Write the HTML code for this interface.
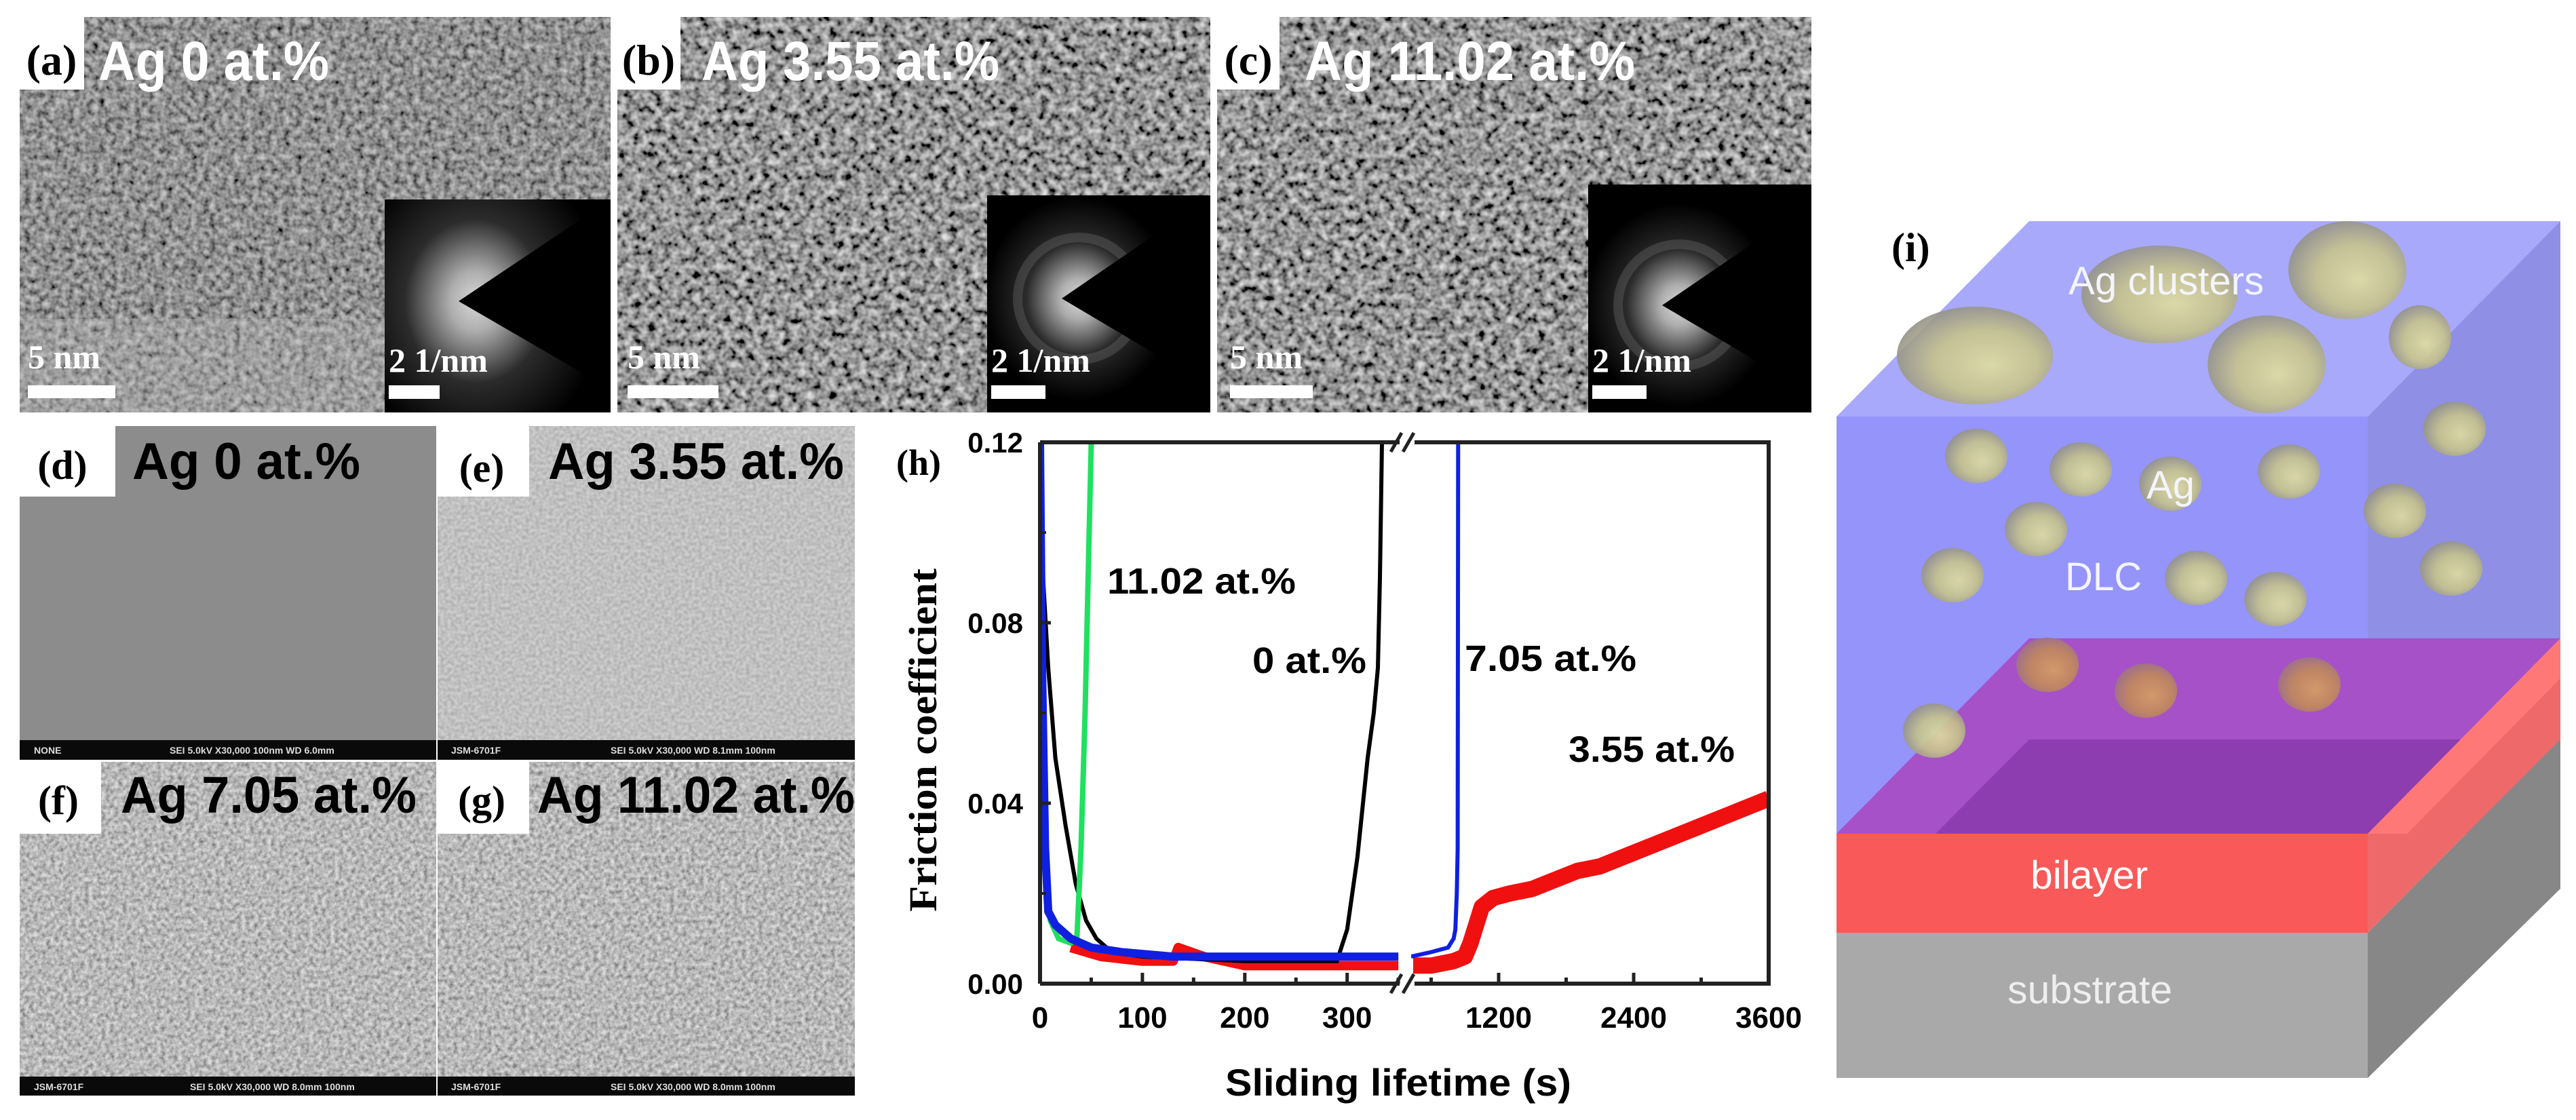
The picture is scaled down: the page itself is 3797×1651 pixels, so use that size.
<!DOCTYPE html>
<html><head><meta charset="utf-8">
<style>
html,body{margin:0;padding:0;background:#fff;}
svg{display:block;}
.sans{font-family:"Liberation Sans",sans-serif;font-weight:bold;}
.serif{font-family:"Liberation Serif",serif;font-weight:bold;}
</style></head>
<body>
<svg id="fig" width="3797" height="1651" viewBox="0 0 3797 1651" xmlns="http://www.w3.org/2000/svg">
<defs>
  <filter id="temA" x="0" y="0" width="1" height="1" filterUnits="objectBoundingBox">
    <feTurbulence type="fractalNoise" baseFrequency="0.11" numOctaves="2" seed="3"/>
    <feColorMatrix type="matrix" values="0.8 0 0 0 -0.12  0.8 0 0 0 -0.12  0.8 0 0 0 -0.12  0 0 0 0 1"/>
  </filter>
  <filter id="temB" x="0" y="0" width="1" height="1" filterUnits="objectBoundingBox">
    <feTurbulence type="fractalNoise" baseFrequency="0.09" numOctaves="2" seed="7"/>
    <feColorMatrix type="matrix" values="1.2 0 0 0 -0.3  1.2 0 0 0 -0.3  1.2 0 0 0 -0.3  0 0 0 0 1"/>
  </filter>
  <filter id="semS" x="0" y="0" width="1" height="1" filterUnits="objectBoundingBox">
    <feTurbulence type="fractalNoise" baseFrequency="0.2" numOctaves="1" seed="5"/>
    <feColorMatrix type="matrix" values="0.4 0 0 0 0.33  0.4 0 0 0 0.33  0.4 0 0 0 0.33  0 0 0 0 1"/>
  </filter>
  <filter id="semG" x="0" y="0" width="1" height="1" filterUnits="objectBoundingBox">
    <feTurbulence type="fractalNoise" baseFrequency="0.16" numOctaves="2" seed="9"/>
    <feColorMatrix type="matrix" values="0.8 0 0 0 0.08  0.8 0 0 0 0.08  0.8 0 0 0 0.08  0 0 0 0 1"/>
  </filter>
  <radialGradient id="glow" cx="0.5" cy="0.5" r="0.5">
    <stop offset="0" stop-color="#fff"/><stop offset="0.2" stop-color="#ccc"/>
    <stop offset="0.55" stop-color="#333"/><stop offset="1" stop-color="#000"/>
  </radialGradient>
  <radialGradient id="sph" cx="0.55" cy="0.55" r="0.6" fx="0.6" fy="0.6">
    <stop offset="0" stop-color="#e0dea0"/><stop offset="0.55" stop-color="#c6c38a"/>
    <stop offset="1" stop-color="#8d8c88"/>
  </radialGradient>
  <radialGradient id="sphO" cx="0.55" cy="0.55" r="0.6" fx="0.6" fy="0.6">
    <stop offset="0" stop-color="#d8a060"/><stop offset="0.6" stop-color="#c08a5a"/>
    <stop offset="1" stop-color="#9a7088"/>
  </radialGradient>
  <clipPath id="clipL"><rect x="1533" y="640" width="535" height="815"/></clipPath>
  <clipPath id="clipR"><rect x="2080" y="640" width="527" height="815"/></clipPath>
</defs>

<g>
  <rect x="29" y="25" width="871" height="583" filter="url(#temA)"/>
  <rect x="29" y="470" width="540" height="138" fill="#c0c0c0" opacity="0.3"/>
</g>
<g>
  <rect x="910" y="25" width="874" height="583" filter="url(#temB)"/>
</g>
<g>
  <rect x="1794" y="25" width="876" height="583" filter="url(#temB)"/>
</g>
<g id="insets"></g>

<rect x="29" y="628" width="614" height="492" fill="#8c8c8c"/>
<rect x="645" y="628" width="615" height="492" filter="url(#semS)"/>
<rect x="29" y="1123" width="614" height="492" filter="url(#semG)"/>
<rect x="645" y="1123" width="615" height="492" filter="url(#semG)"/>
<g fill="#0a0a0a">
  <rect x="29" y="1091" width="614" height="29"/><rect x="645" y="1091" width="615" height="29"/>
  <rect x="29" y="1587" width="614" height="28"/><rect x="645" y="1587" width="615" height="28"/>
</g>
<g class="sans" font-size="14" fill="#ddd" font-weight="normal">
  <text x="50" y="1111">NONE</text><text x="250" y="1111">SEI   5.0kV   X30,000   100nm   WD 6.0mm</text>
  <text x="665" y="1111">JSM-6701F</text><text x="900" y="1111">SEI   5.0kV   X30,000   WD 8.1mm   100nm</text>
  <text x="50" y="1607">JSM-6701F</text><text x="280" y="1607">SEI   5.0kV   X30,000   WD 8.0mm   100nm</text>
  <text x="665" y="1607">JSM-6701F</text><text x="900" y="1607">SEI   5.0kV   X30,000   WD 8.0mm   100nm</text>
</g>

<g>
  <rect x="29" y="25" width="95" height="107" fill="#fff"/>
  <rect x="910" y="25" width="93" height="107" fill="#fff"/>
  <rect x="1794" y="25" width="92" height="107" fill="#fff"/>
  <text class="serif" x="76" y="110" font-size="64" text-anchor="middle">(a)</text>
  <text class="serif" x="956" y="110" font-size="64" text-anchor="middle">(b)</text>
  <text class="serif" x="1840" y="110" font-size="64" text-anchor="middle">(c)</text>
  <text class="sans" x="145" y="118" font-size="82" fill="#fff" textLength="340" lengthAdjust="spacingAndGlyphs" font-weight="normal">Ag 0 at.%</text>
  <text class="sans" x="1034" y="118" font-size="82" fill="#fff" textLength="439" lengthAdjust="spacingAndGlyphs" font-weight="normal">Ag 3.55 at.%</text>
  <text class="sans" x="1923" y="118" font-size="82" fill="#fff" textLength="487" lengthAdjust="spacingAndGlyphs" font-weight="normal">Ag 11.02 at.%</text>

  <rect x="29" y="628" width="141" height="104" fill="#fff"/>
  <rect x="645" y="628" width="135" height="104" fill="#fff"/>
  <rect x="29" y="1123" width="120" height="106" fill="#fff"/>
  <rect x="645" y="1123" width="135" height="106" fill="#fff"/>
  <text class="serif" x="92" y="706" font-size="60" text-anchor="middle">(d)</text>
  <text class="serif" x="710" y="710" font-size="60" text-anchor="middle">(e)</text>
  <text class="serif" x="86" y="1200" font-size="60" text-anchor="middle">(f)</text>
  <text class="serif" x="710" y="1200" font-size="60" text-anchor="middle">(g)</text>
  <text class="sans" x="195" y="706" font-size="76" textLength="336" lengthAdjust="spacingAndGlyphs">Ag 0 at.%</text>
  <text class="sans" x="808" y="706" font-size="76" textLength="436" lengthAdjust="spacingAndGlyphs">Ag 3.55 at.%</text>
  <text class="sans" x="178" y="1198" font-size="76" textLength="436" lengthAdjust="spacingAndGlyphs">Ag 7.05 at.%</text>
  <text class="sans" x="792" y="1198" font-size="76" textLength="468" lengthAdjust="spacingAndGlyphs">Ag 11.02 at.%</text>
</g>

<g id="chart"></g>

<g id="schem">
  <polygon points="2707,614 2991,326 3774,326 3490,614" fill="#a8a9fb"/>
  <rect x="2707" y="614" width="783" height="615" fill="#9494fa"/>
  <polygon points="3490,614 3774,326 3774,941 3490,1229" fill="#8f8fe6"/>
  <polygon points="2707,1229 2991,941 3774,941 3490,1229" fill="#a651c8"/>
  <polygon points="2853,1229 2991,1090 3774,1090 3636,1229" fill="#8e3db0"/>
  <polygon points="3490,1229 3774,941 3774,1090 3490,1375" fill="#ee6a6a"/>
  <polygon points="3490,1229 3774,941 3774,1000 3548,1229" fill="#ff7878"/>
  <rect x="2707" y="1229" width="783" height="146" fill="#fa5959"/>
  <rect x="2707" y="1375" width="783" height="214" fill="#a9a9a9"/>
  <polygon points="3490,1375 3774,1090 3774,1310 3490,1589" fill="#878787"/>
  <g id="spheres"></g>
  <text class="serif" x="2788" y="385" font-size="60">(i)</text>
  <text x="3049" y="434" font-family="Liberation Sans, sans-serif" font-size="58" fill="#f4f4ff" textLength="288" lengthAdjust="spacingAndGlyphs">Ag clusters</text>
  <text x="3164" y="735" font-family="Liberation Sans, sans-serif" font-size="58" fill="#f4f4ff">Ag</text>
  <text x="3044" y="870" font-family="Liberation Sans, sans-serif" font-size="58" fill="#f4f4ff" textLength="113" lengthAdjust="spacingAndGlyphs">DLC</text>
  <text x="2993" y="1310" font-family="Liberation Sans, sans-serif" font-size="58" fill="#fff" textLength="173" lengthAdjust="spacingAndGlyphs">bilayer</text>
  <text x="2959" y="1479" font-family="Liberation Sans, sans-serif" font-size="58" fill="#eee" textLength="243" lengthAdjust="spacingAndGlyphs">substrate</text>
</g>
</svg>

<script>
// ---- chart data ----
const yTicks = [0, 0.04, 0.08, 0.12];
const yTickLabels = ["0.00", "0.04", "0.08", "0.12"];
const xTicksLeft = [0, 100, 200, 300];
const xTicksRight = [1200, 2400, 3600];
const greenT = [0, 2, 5, 10, 18, 30, 36, 40, 44, 47, 50];
const greenV = [0.12, 0.05, 0.025, 0.014, 0.010, 0.009, 0.010, 0.03, 0.06, 0.09, 0.12];
const blackT = [3, 8, 15, 25, 35, 45, 55, 70, 100, 200, 290, 300, 310, 320, 326, 330, 332, 334];
const blackV = [0.09, 0.07, 0.05, 0.035, 0.022, 0.014, 0.010, 0.007, 0.006, 0.005, 0.005, 0.012, 0.028, 0.05, 0.06, 0.07, 0.09, 0.12];
const blueLT = [0, 2, 5, 8, 15, 30, 50, 80, 130, 200, 300, 350];
const blueLV = [0.12, 0.07, 0.03, 0.016, 0.013, 0.010, 0.008, 0.007, 0.006, 0.006, 0.006, 0.006];
const redLT = [30, 60, 100, 130, 135, 160, 200, 260, 300, 350];
const redLV = [0.008, 0.006, 0.005, 0.005, 0.008, 0.006, 0.004, 0.004, 0.004, 0.004];
const blueRT = [422, 600, 750, 800, 815, 828, 836, 840];
const blueRV = [0.006, 0.007, 0.008, 0.010, 0.012, 0.02, 0.03, 0.12];
const redRT = [440, 600, 800, 900, 950, 1000, 1050, 1150, 1300, 1500, 1700, 1900, 2100, 2400, 2700, 3000, 3300, 3600];
const redRV = [0.004, 0.004, 0.005, 0.006, 0.009, 0.013, 0.017, 0.019, 0.020, 0.021, 0.023, 0.025, 0.026, 0.029, 0.032, 0.035, 0.038, 0.041];
const seriesLabels = ["11.02 at.%", "0 at.%", "7.05 at.%", "3.55 at.%"];

const NS = "http://www.w3.org/2000/svg";
const X0 = 1533, PXS = 1.509;
const XR0 = 2209, PXR = 199 / 1200;
const Y0 = 1450, PYU = 6650;
function xL(t) { return X0 + t * PXS; }
function xR(t) { return XR0 + (t - 1200) * PXR; }
function yS(v) { return Y0 - v * PYU; }

const chart = document.getElementById('chart');
function mk(tag, attrs, parent) {
  const e = document.createElementNS(NS, tag);
  for (const k in attrs) e.setAttribute(k, attrs[k]);
  (parent || chart).appendChild(e);
  return e;
}
function pathFrom(ts, vs, xf) {
  return ts.map((t, i) => (i ? 'L' : 'M') + xf(t).toFixed(1) + ' ' + yS(vs[i]).toFixed(1)).join(' ');
}

let p;
p = mk('path', {d: pathFrom(redLT, redLV, xL), stroke: '#f01010', 'stroke-width': 14, fill: 'none', 'clip-path': 'url(#clipL)', 'stroke-linejoin': 'round'});


p = mk('path', {d: pathFrom(redRT, redRV, xR), stroke: '#f01010', 'stroke-width': 24, fill: 'none', 'clip-path': 'url(#clipR)', 'stroke-linejoin': 'round'});


p = mk('path', {d: pathFrom(blackT, blackV, xL), stroke: '#000', 'stroke-width': 6, fill: 'none', 'clip-path': 'url(#clipL)'});


p = mk('path', {d: pathFrom(greenT, greenV, xL), stroke: '#20e060', 'stroke-width': 8, fill: 'none', 'clip-path': 'url(#clipL)'});


p = mk('path', {d: pathFrom(blueLT, blueLV, xL), stroke: '#1020e0', 'stroke-width': 12, fill: 'none', 'clip-path': 'url(#clipL)', 'stroke-linejoin': 'round'});


p = mk('path', {d: pathFrom(blueRT, blueRV, xR), stroke: '#1020e0', 'stroke-width': 6, fill: 'none', 'clip-path': 'url(#clipR)'});



const ax = {stroke: '#222', 'stroke-width': 6, fill: 'none'};
let a;
a = mk('path', Object.assign({d: `M${X0} ${yS(0.12)} V${Y0}`}, ax));


a = mk('path', Object.assign({d: `M${X0} ${Y0} H2063 M2085 ${Y0} H2607 V${yS(0.12)} H2085 M2063 ${yS(0.12)} H${X0}`}, ax));


a = mk('path', {d: `M2050 ${Y0+14} L2066 ${Y0-14} M2068 ${Y0+14} L2084 ${Y0-14} M2050 ${yS(0.12)+14} L2066 ${yS(0.12)-14} M2068 ${yS(0.12)+14} L2084 ${yS(0.12)-14}`, stroke: '#222', 'stroke-width': 5});



yTicks.forEach((v, i) => {
  const t = mk('line', {x1: X0, x2: X0 + 16, y1: yS(v), y2: yS(v), stroke: '#222', 'stroke-width': 5});
  
  
  if (i < yTicks.length - 1) {
    const m = mk('line', {x1: X0, x2: X0 + 9, y1: yS(v + 0.02), y2: yS(v + 0.02), stroke: '#222', 'stroke-width': 4});
    
    
  }
  const l = mk('text', {x: 1508, y: yS(v) + 15, 'text-anchor': 'end', class: 'sans', 'font-size': 42});
  l.textContent = yTickLabels[i];
  
  
});
function xTick(x, label, major) {
  const t = mk('line', {x1: x, x2: x, y1: Y0, y2: Y0 - (major ? 16 : 9), stroke: '#222', 'stroke-width': 5});
  
  
  if (label !== null) {
    const l = mk('text', {x: x, y: 1515, 'text-anchor': 'middle', class: 'sans', 'font-size': 44});
    l.textContent = label;
    
    
  }
}
xTicksLeft.forEach(t => { xTick(xL(t), String(t), true); xTick(xL(t + 50), null, false); });
xTicksRight.forEach(t => { xTick(xR(t), String(t), true); xTick(xR(t - 600), null, false); });

let tx;
tx = mk('text', {x: 1360, y: 1091, transform: 'rotate(-90 1360 1091)', 'text-anchor': 'middle', class: 'serif', 'font-size': 58, dy: 20, textLength: 506, lengthAdjust: 'spacingAndGlyphs'});
tx.textContent = 'Friction coefficient';


tx = mk('text', {x: 2061, y: 1615, 'text-anchor': 'middle', class: 'sans', 'font-size': 56, textLength: 510, lengthAdjust: 'spacingAndGlyphs'});
tx.textContent = 'Sliding lifetime (s)';


tx = mk('text', {x: 1321, y: 700, class: 'serif', 'font-size': 54});
tx.textContent = '(h)';


const annPos = [[1632, 875, 278], [1846, 992, 168], [2159, 989, 253], [2312, 1123, 245]];
seriesLabels.forEach((s, i) => {
  const e = mk('text', {x: annPos[i][0], y: annPos[i][1], class: 'sans', 'font-size': 54, textLength: annPos[i][2], lengthAdjust: 'spacingAndGlyphs'});
  e.textContent = s;
  
  
});

const insets = document.getElementById('insets');
[[567, 294, 900, 608, 676, 444], [1455, 288, 1784, 608, 1565, 440], [2341, 272, 2670, 608, 2450, 450]].forEach((d, i) => {
  const w = d[2] - d[0], h = d[3] - d[1];
  const g = mk('svg', {x: d[0], y: d[1], width: w, height: h, viewBox: `${d[0]} ${d[1]} ${w} ${h}`, overflow: 'hidden'}, insets);
  
  
  mk('rect', {x: d[0], y: d[1], width: w, height: h, fill: '#000'}, g);
  mk('ellipse', {cx: d[4] + 25, cy: d[5], rx: i === 0 ? 190 : 140, ry: i === 0 ? 220 : 150, fill: 'url(#glow)', opacity: 0.85}, g);
  if (i > 0) mk('circle', {cx: d[4] + 25, cy: d[5], r: 90, fill: 'none', stroke: '#666', 'stroke-width': 14, opacity: 0.4}, g);
  mk('polygon', {points: `${d[4]},${d[5]} ${d[2]},${d[5] - 150} ${d[2]},${d[5] + 130}`, fill: '#000'}, g);
  mk('rect', {x: d[0] + 6, y: 568, width: i === 0 ? 75 : 80, height: 20, fill: '#fff'}, g);
  const t = mk('text', {x: d[0] + 6, y: 548, class: 'serif', 'font-size': 50, fill: '#fff'}, g);
  t.textContent = '2 1/nm';
});
[[41, 129], [925, 134], [1813, 122]].forEach(d => {
  const g = document.createElementNS(NS, 'g');
  
  
  insets.appendChild(g);
  mk('rect', {x: d[0], y: 568, width: d[1], height: 19, fill: '#fff'}, g);
  const t = mk('text', {x: d[0], y: 543, class: 'serif', 'font-size': 50, fill: '#fff'}, g);
  t.textContent = '5 nm';
});

const sph = document.getElementById('spheres');
const spheres = [[2911,524,115,72],[3183,434,115,72],[3460,398,87,72],[3341,537,87,72],[3567,497,46,47],
 [2913,672,46,40],[3067,692,46,40],[3199,713,46,40],[3374,695,46,40],[3618,632,46,40],[3001,780,46,40],
 [3530,753,46,40],[2878,848,46,40],[3237,852,46,40],[3354,883,46,40],[3613,838,46,40],[2851,1077,46,40]];
spheres.forEach(s => {
  const e = mk('ellipse', {cx: s[0], cy: s[1], rx: s[2], ry: s[3], fill: 'url(#sph)', opacity: 0.9}, sph);
  
  
});
[[3018,980],[3163,1018],[3404,1009]].forEach(s => {
  const e = mk('ellipse', {cx: s[0], cy: s[1], rx: 46, ry: 40, fill: 'url(#sphO)', opacity: 0.9}, sph);
  
  
});
</script>
</body></html>
